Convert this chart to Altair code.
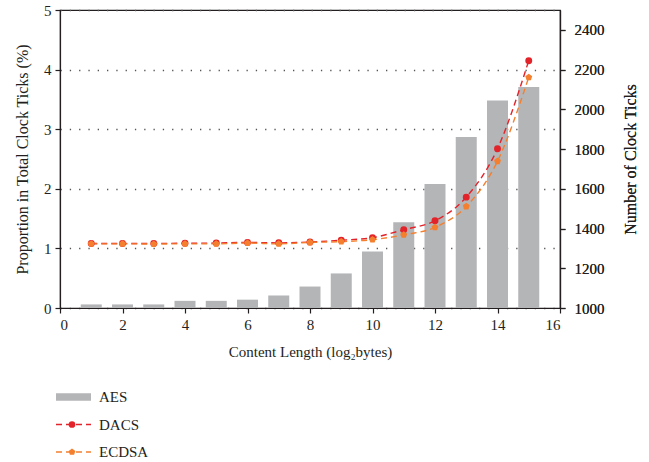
import altair as alt
import pandas as pd

# Content length (log2 bytes)
sizes = list(range(1, 16))
# AES share of total clock ticks (%)
aes_pct = [0.06, 0.06, 0.06, 0.12, 0.12, 0.14, 0.21, 0.36, 0.58, 0.95, 1.44, 2.08, 2.87, 3.48, 3.71]
# Number of clock ticks for the signature schemes
dacs_ticks = [1325, 1325, 1325, 1326, 1327, 1330, 1328, 1332, 1341, 1354, 1394, 1439, 1558, 1802, 2245]
ecdsa_ticks = [1323, 1323, 1322, 1323, 1323, 1327, 1323, 1330, 1334, 1344, 1368, 1406, 1511, 1739, 2161]

series_names = ["DACS", "ECDSA"]
series_colors = ["#e3232a", "#f4802f"]
pentagon = "M0,-1.05L1,-0.32L0.62,0.85L-0.62,0.85L-1,-0.32Z"
legend_names = ["AES", "DACS", "ECDSA"]

FONT = "Liberation Serif"
INK = "#231f20"
BAR = "#b4b5b7"

bar_df = pd.DataFrame({"size": sizes, "aes": aes_pct})
line_df = pd.concat([
    pd.DataFrame({"size": sizes, "ticks": dacs_ticks, "series": "DACS"}),
    pd.DataFrame({"size": sizes, "ticks": ecdsa_ticks, "series": "ECDSA"}),
])

x_enc = alt.X(
    "size:Q",
    scale=alt.Scale(domain=[0, 16], nice=False, padding=0),
    axis=alt.Axis(values=list(range(0, 17, 2)), title="Content Length (log₂bytes)", grid=False,
                  titleFontSize=15, titlePadding=12, labelPadding=4, tickSize=5),
)

bars = alt.Chart(bar_df).mark_bar(color=BAR, size=21).encode(
    x=x_enc,
    y=alt.Y(
        "aes:Q",
        scale=alt.Scale(domain=[0, 5], nice=False),
        axis=alt.Axis(values=[0, 1, 2, 3, 4, 5], title="Proportion in Total Clock Ticks (%)",
                      grid=True, gridDash=[1.3, 8], gridColor="#555555", gridWidth=1.3,
                      titlePadding=13, labelPadding=4),
    ),
)

color_scale = alt.Scale(domain=series_names, range=series_colors)
shape_scale = alt.Scale(domain=series_names, range=["circle", pentagon])
y_right = alt.Y(
    "ticks:Q",
    scale=alt.Scale(domain=[1000, 2500], nice=False),
    axis=alt.Axis(orient="right", values=list(range(1000, 2401, 200)), format="d",
                  title="Number of Clock Ticks", titleAngle=270, titleBaseline="top",
                  grid=False, titlePadding=18, labelPadding=9),
)

lines = alt.Chart(line_df).mark_line(interpolate="monotone", strokeDash=[6, 4], strokeWidth=1.4).encode(
    x=x_enc,
    y=y_right,
    color=alt.Color("series:N", scale=color_scale, legend=None),
)
points = alt.Chart(line_df).mark_point(filled=True, opacity=1, size=48).encode(
    x=x_enc,
    y=y_right,
    color=alt.Color("series:N", scale=color_scale, legend=None),
    shape=alt.Shape("series:N", scale=shape_scale, legend=None),
)

main = alt.layer(bars, lines, points).resolve_scale(y="independent").properties(width=500, height=298)

# Legend panel drawn as its own small chart: one row per entry on a point scale
leg_df = pd.DataFrame({"entry": legend_names})
leg_y = alt.Y("entry:N", sort=legend_names, axis=None, scale=alt.Scale(type="point", padding=0))
leg_color = alt.Color("entry:N", scale=alt.Scale(domain=legend_names, range=[BAR] + series_colors), legend=None)
leg_shape = alt.Shape("entry:N", scale=alt.Scale(domain=series_names, range=["circle", pentagon]), legend=None)

leg_bar = alt.Chart(leg_df).transform_filter(alt.datum.entry == "AES").mark_rule(
    strokeWidth=7.5, strokeCap="butt").encode(
    x=alt.value(-4), x2=alt.value(31), y=leg_y, color=leg_color)
leg_line = alt.Chart(leg_df).transform_filter(alt.datum.entry != "AES").mark_rule(
    strokeWidth=1.4, strokeDash=[6, 4], strokeCap="butt").encode(
    x=alt.value(-4), x2=alt.value(31), y=leg_y, color=leg_color)
leg_pt = alt.Chart(leg_df).transform_filter(alt.datum.entry != "AES").mark_point(
    filled=True, opacity=1, size=45).encode(
    x=alt.value(12), y=leg_y, color=leg_color, shape=leg_shape)
leg_txt = alt.Chart(leg_df).mark_text(align="left", baseline="middle", font=FONT, fontSize=15, color=INK).encode(
    x=alt.value(39), y=leg_y, text="entry:N")

legend = alt.layer(leg_bar, leg_line, leg_pt, leg_txt).resolve_scale(
    color="independent", shape="independent"
).properties(width=500, height=55, view=alt.ViewConfig(stroke="transparent"))

chart = alt.vconcat(main, legend, spacing=29).resolve_scale(
    color="independent", shape="independent"
).properties(
    padding={"left": 13, "right": 3, "top": 2, "bottom": 0},
    background="white",
).configure_view(stroke=INK, strokeWidth=1.2).configure_axis(
    labelFont=FONT, titleFont=FONT, labelFontSize=15, titleFontSize=16,
    labelColor=INK, titleColor=INK, titleFontWeight="normal",
    domainColor=INK, tickColor=INK, domainWidth=1.2, tickWidth=1.2,
).configure_text(font=FONT)

chart.save("out.html", embed_options={"renderer": "svg", "actions": False})
